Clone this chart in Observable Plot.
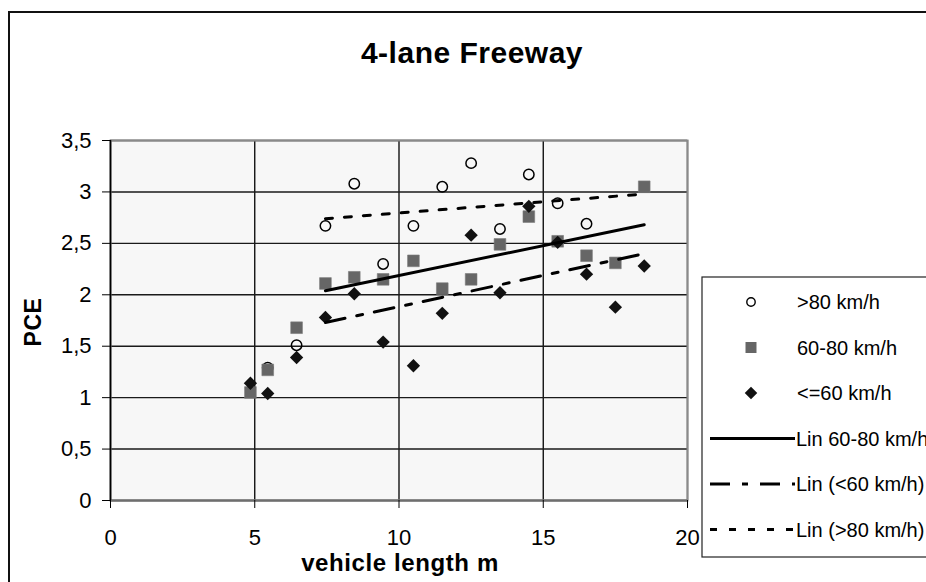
<!DOCTYPE html>
<html>
<head>
<meta charset="utf-8">
<script src="https://cdn.jsdelivr.net/npm/d3@7"></script>
<script src="https://cdn.jsdelivr.net/npm/@observablehq/plot@0.6"></script>
<style>
  html, body { margin: 0; padding: 0; background: #fff; }
  #wrap { position: relative; width: 926px; height: 582px; overflow: hidden; font-family: "Liberation Sans", Arial, sans-serif; }
  #wrap > svg { position: absolute; left: 0; top: 0; }
  #overlay { pointer-events: none; }
</style>
</head>
<body>
<div id="wrap"></div>
<script>
// ---- data ----
const titleText = "4-lane Freeway";
const xTitle = "vehicle length m";
const yTitle = "PCE";
const xTicks = [0, 5, 10, 15, 20];
const yTicks = [0, 0.5, 1, 1.5, 2, 2.5, 3, 3.5];

const lengths    = [4.85, 5.45, 6.45, 7.45, 8.45, 9.45, 10.5, 11.5, 12.5, 13.5, 14.5, 15.5, 16.5, 17.5, 18.5];
const pceOver80  = [null, 1.29, 1.51, 2.67, 3.08, 2.30, 2.67, 3.05, 3.28, 2.64, 3.17, 2.89, 2.69, null, null];
const pce60to80  = [1.05, 1.27, 1.68, 2.11, 2.17, 2.15, 2.33, 2.06, 2.15, 2.49, 2.76, 2.52, 2.38, 2.31, 3.05];
const pceUnder60 = [1.14, 1.04, 1.39, 1.78, 2.01, 1.54, 1.31, 1.82, 2.58, 2.02, 2.86, 2.51, 2.20, 1.88, 2.28];

// linear trend lines (end points)
const trendX        = [7.45, 18.5];
const trend60to80   = [2.04, 2.68];
const trendUnder60  = [1.73, 2.40];
const trendOver80   = [2.74, 2.98];

const seriesNames = [">80 km/h", "60-80 km/h", "<=60 km/h", "Lin 60-80 km/h", "Lin (<60 km/h)", "Lin (>80 km/h)"];

// ---- tables ----
const pts = (ys) => lengths.map((x, i) => ({x, y: ys[i]})).filter(d => d.y != null);
const line = (ys) => trendX.map((x, i) => ({x, y: ys[i]}));

const dashUnder60 = "20,12,6,12";
const dashOver80 = "7,12";

const chart = Plot.plot({
  width: 926,
  height: 582,
  marginLeft: 110,
  marginRight: 239,
  marginTop: 140,
  marginBottom: 82,
  style: { fontFamily: "'Liberation Sans', Arial, sans-serif", fontSize: "22px", color: "#000", background: "transparent" },
  x: { domain: [0, 20] },
  y: { domain: [0, 3.5] },
  marks: [
    Plot.frame({ fill: "#f7f7f7", stroke: null }),
    Plot.gridX(xTicks, { stroke: "#000", strokeOpacity: 1, strokeWidth: 1.3 }),
    Plot.gridY(yTicks, { stroke: "#1a1a1a", strokeOpacity: 1, strokeWidth: 1.4 }),
    Plot.frame({ stroke: "#8a8a8a", strokeWidth: 2 }),
    Plot.ruleY([0], { stroke: "#6e6e6e", strokeWidth: 2 }),
    Plot.ruleX([0], { stroke: "#000", strokeWidth: 1.5 }),
    Plot.axisX(xTicks, { tickSize: 8, tickPadding: 21, label: null, fontSize: 22, stroke: "#000" }),
    Plot.axisY(yTicks, { tickSize: 8, tickPadding: 11, label: null, fontSize: 22, tickFormat: d => String(d).replace(".", ","), stroke: "#000" }),
    Plot.dot(pts(pceOver80), { x: "x", y: "y", symbol: "circle", r: 5.2, stroke: "#000", strokeWidth: 1.5, fill: "none" }),
    Plot.dot(pts(pce60to80), { x: "x", y: "y", symbol: "square", r: 6.6, fill: "#666666", stroke: "#7a7a7a", strokeWidth: 0.6 }),
    Plot.dot(pts(pceUnder60), { x: "x", y: "y", symbol: "diamond2", r: 6, fill: "#111", stroke: "none" }),
    Plot.line(line(trend60to80), { x: "x", y: "y", stroke: "#000", strokeWidth: 3 }),
    Plot.line(line(trendUnder60), { x: "x", y: "y", stroke: "#000", strokeWidth: 3, strokeDasharray: dashUnder60 }),
    Plot.line(line(trendOver80), { x: "x", y: "y", stroke: "#000", strokeWidth: 3, strokeDasharray: dashOver80 })
  ]
});

const wrap = document.getElementById("wrap");

// outer chart border (behind)
const under = d3.create("svg").attr("width", 926).attr("height", 582);
under.append("rect").attr("x", 9).attr("y", 12).attr("width", 1000).attr("height", 700)
  .attr("fill", "#fff").attr("stroke", "#111").attr("stroke-width", 2);
wrap.appendChild(under.node());
wrap.appendChild(chart);

// overlay: titles and legend
const ov = d3.create("svg").attr("id", "overlay").attr("width", 926).attr("height", 582)
  .style("font-family", "'Liberation Sans', Arial, sans-serif");

ov.append("text").attr("x", 472).attr("y", 63).attr("text-anchor", "middle")
  .attr("font-size", 30).attr("font-weight", "bold").attr("letter-spacing", "0.5px").text(titleText);
ov.append("text").attr("x", 400).attr("y", 571).attr("text-anchor", "middle")
  .attr("font-size", 24).attr("font-weight", "bold").attr("letter-spacing", "0.6px").text(xTitle);
ov.append("text").attr("transform", "translate(41,322) rotate(-90)").attr("text-anchor", "middle")
  .attr("font-size", 23).attr("font-weight", "bold").attr("letter-spacing", "0.6px").text(yTitle);

// legend
const lg = ov.append("g");
lg.append("rect").attr("x", 702).attr("y", 277).attr("width", 400).attr("height", 280)
  .attr("fill", "#fff").attr("stroke", "#222").attr("stroke-width", 1.2);
const rowY = i => 302 + i * 45.5;
const symGen = (type, size) => d3.symbol(type, size)();
const kinds = [
  { t: "circle" }, { t: "square" }, { t: "diamond" },
  { t: "line", dash: null }, { t: "line", dash: dashUnder60 }, { t: "line", dash: dashOver80 }
];
seriesNames.forEach((name, i) => {
  const y = rowY(i);
  const k = kinds[i];
  if (k.t === "circle") {
    lg.append("circle").attr("cx", 751).attr("cy", y).attr("r", 4.2).attr("fill", "none").attr("stroke", "#000").attr("stroke-width", 1.4);
  } else if (k.t === "square") {
    lg.append("path").attr("transform", `translate(751,${y})`).attr("d", symGen(d3.symbolSquare, 121)).attr("fill", "#666");
  } else if (k.t === "diamond") {
    lg.append("path").attr("transform", `translate(751,${y})`).attr("d", symGen(d3.symbolDiamond2, 100)).attr("fill", "#111");
  } else {
    lg.append("line").attr("x1", 710).attr("x2", 795).attr("y1", y).attr("y2", y)
      .attr("stroke", "#000").attr("stroke-width", 3).attr("stroke-dasharray", k.dash);
  }
  lg.append("text").attr("x", i < 3 ? 797 : 796).attr("y", y).attr("dy", "0.36em")
    .attr("font-size", 20).text(name);
});
wrap.appendChild(ov.node());
</script>
</body>
</html>
